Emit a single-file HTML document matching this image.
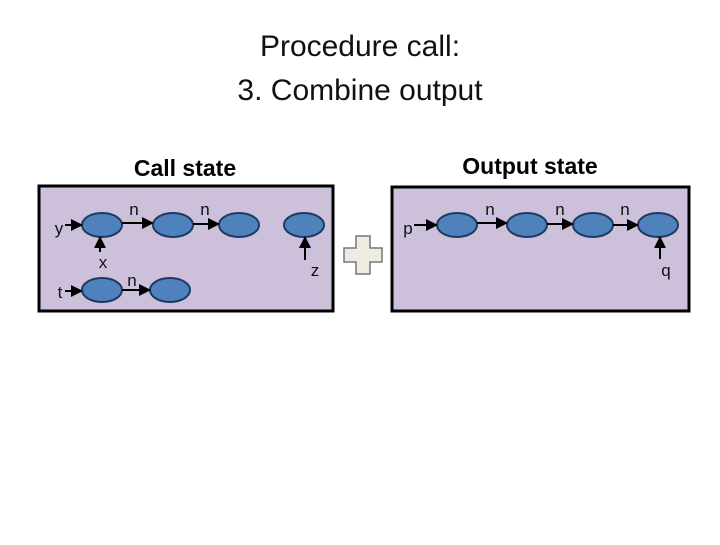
<!DOCTYPE html>
<html><head><style>body{margin:0;background:#fff}</style></head><body>
<svg width="720" height="540" xmlns="http://www.w3.org/2000/svg" font-family="Liberation Sans, sans-serif">
<defs><marker id="a" markerWidth="6" markerHeight="6" refX="5" refY="3" orient="auto"><path d="M0,0L6,3L0,6z" fill="#000"/></marker></defs>
<rect width="720" height="540" fill="#fff"/>
<text x="360" y="56" font-size="30" text-anchor="middle" fill="#111">Procedure call:</text>
<text x="360" y="100" font-size="30" text-anchor="middle" fill="#111">3. Combine output</text>
<text x="185" y="176" font-size="23" font-weight="bold" text-anchor="middle">Call state</text>
<text x="530" y="174" font-size="23" font-weight="bold" text-anchor="middle">Output state</text>
<rect x="39" y="186" width="294" height="125" fill="#ccc0da" stroke="#000" stroke-width="3"/>
<rect x="392" y="187" width="297" height="124" fill="#ccc0da" stroke="#000" stroke-width="3"/>
<g fill="#4f81bd" stroke="#1f3a60" stroke-width="2">
<ellipse cx="102" cy="225" rx="20" ry="12"/><ellipse cx="173" cy="225" rx="20" ry="12"/><ellipse cx="239" cy="225" rx="20" ry="12"/><ellipse cx="304" cy="225" rx="20" ry="12"/>
<ellipse cx="102" cy="290" rx="20" ry="12"/><ellipse cx="170" cy="290" rx="20" ry="12"/>
<ellipse cx="457" cy="225" rx="20" ry="12"/><ellipse cx="527" cy="225" rx="20" ry="12"/><ellipse cx="593" cy="225" rx="20" ry="12"/><ellipse cx="658" cy="225" rx="20" ry="12"/>
</g>
<g stroke="#000" stroke-width="2" marker-end="url(#a)">
<line x1="65" y1="225" x2="81" y2="225"/><line x1="122" y1="223" x2="152" y2="223"/><line x1="193" y1="224" x2="218" y2="224"/>
<line x1="100" y1="252" x2="100" y2="238"/><line x1="305" y1="260" x2="305" y2="238"/>
<line x1="65" y1="291" x2="81" y2="291"/><line x1="122" y1="290" x2="149" y2="290"/>
<line x1="414" y1="225" x2="436" y2="225"/><line x1="477" y1="223" x2="506" y2="223"/><line x1="547" y1="224" x2="572" y2="224"/><line x1="613" y1="225" x2="637" y2="225"/>
<line x1="660" y1="259" x2="660" y2="238"/>
</g>
<g font-size="17" text-anchor="middle" fill="#111">
<text x="59" y="234">y</text><text x="103" y="268">x</text><text x="60" y="298">t</text>
<text x="134" y="215">n</text><text x="205" y="215">n</text><text x="132" y="286">n</text><text x="315" y="276">z</text>
<text x="408" y="234">p</text><text x="490" y="215">n</text><text x="560" y="215">n</text><text x="625" y="215">n</text><text x="666" y="276">q</text>
</g>
<path d="M356,236h14v12h12v14h-12v12h-14v-12h-12v-14h12z" fill="#eeece1" stroke="#777" stroke-width="1.5"/>
</svg>
</body></html>
